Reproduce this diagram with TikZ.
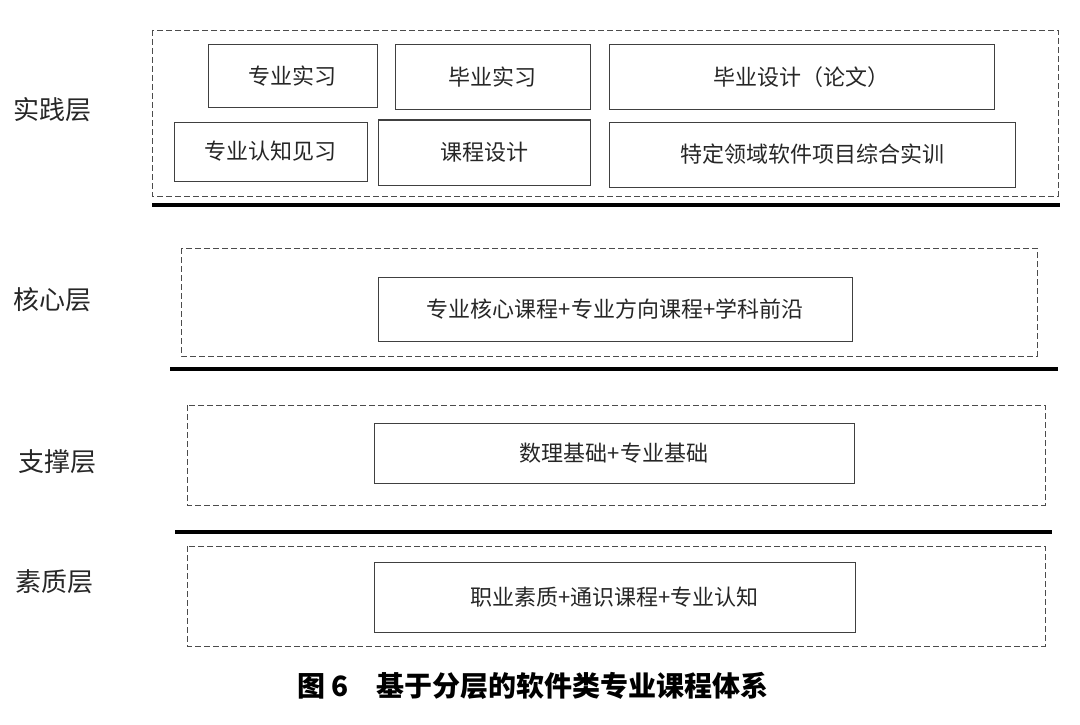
\documentclass[tikz,border=0pt]{standalone}
\usepackage{fontspec}
\setmainfont{Noto Sans CJK SC}
\begin{document}
\begin{tikzpicture}[x=1pt,y=-1pt,
  box/.style={draw=black!75,line width=1pt,font=\fontsize{22}{26}\selectfont,text=black!85},
  grp/.style={draw=black!70,dash pattern=on 6pt off 3pt,line width=0.8pt},
  sep/.style={line width=3.2pt},
  lab/.style={font=\fontsize{26}{30}\selectfont,text=black!85}]
\useasboundingbox (0,0) rectangle (1080,725);
\draw[grp] (152,30) rectangle (1058,196);
\draw[sep] (152,205) -- (1060,205);
\draw[box] (208,45) rectangle (377,108) node[midway] (a1) {专业实习};
\draw[box] (395,45) rectangle (590,110) node[midway] (a2) {毕业实习};
\draw[box] (609,45) rectangle (994,110) node[midway] (a3) {毕业设计（论文）};
\draw[box] (174,122) rectangle (367,181) node[midway] (a4) {专业认知见习};
\draw[box] (378,120) rectangle (590,185) node[midway] (a5) {课程设计};
\draw[box] (609,122) rectangle (1015,187) node[midway] (a6) {特定领域软件项目综合实训};
\node[lab] (l1) at (52,110) {实践层};
\draw[grp] (181,248) rectangle (1037,356);
\draw[box] (378,277) rectangle (852,341) node[midway] (b1) {专业核心课程+专业方向课程+学科前沿};
\node[lab] (l2) at (52,300) {核心层};
\draw[sep] (170,369) -- (1058,369);
\draw[grp] (187,405) rectangle (1045,505);
\draw[box] (374,423) rectangle (854,483) node[midway] (c1) {数理基础+专业基础};
\node[lab] (l3) at (58,462) {支撑层};
\draw[sep] (175,532) -- (1052,532);
\draw[grp] (187,546) rectangle (1045,646);
\draw[box] (374,562) rectangle (855,632) node[midway] (d1) {职业素质+通识课程+专业认知};
\node[lab] (l4) at (55,582) {素质层};
\node[font=\fontsize{28}{32}\selectfont\bfseries] (cap) at (533,686) {图 6\quad 基于分层的软件类专业课程体系};
\end{tikzpicture}
\end{document}
